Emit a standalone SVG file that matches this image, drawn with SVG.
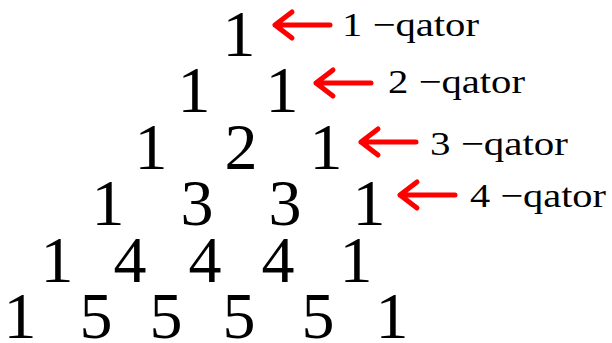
<svg xmlns="http://www.w3.org/2000/svg" width="612" height="343" viewBox="0 0 612 343">
<style>
.n{font-family:"Liberation Serif","Times New Roman",serif;font-size:66px;fill:#000;text-anchor:middle}
.l{font-family:"Liberation Serif","Times New Roman",serif;font-size:34px;fill:#000}
.a{fill:none;stroke:#ff0000;stroke-width:5;stroke-linecap:round;stroke-linejoin:round}
</style>
<rect width="612" height="343" fill="#fff"/>
<g id="row1">
<g id="r1c1"><text class="n" x="239" y="56">1</text></g>
</g>
<g id="row2">
<g id="r2c1"><text class="n" x="194" y="112">1</text></g>
<g id="r2c2"><text class="n" x="282" y="112">1</text></g>
</g>
<g id="row3">
<g id="r3c1"><text class="n" x="151" y="169">1</text></g>
<g id="r3c2"><text class="n" x="241" y="169">2</text></g>
<g id="r3c3"><text class="n" x="326" y="169">1</text></g>
</g>
<g id="row4">
<g id="r4c1"><text class="n" x="108" y="225">1</text></g>
<g id="r4c2"><text class="n" x="197" y="225">3</text></g>
<g id="r4c3"><text class="n" x="285" y="225">3</text></g>
<g id="r4c4"><text class="n" x="369" y="225">1</text></g>
</g>
<g id="row5">
<g id="r5c1"><text class="n" x="57" y="282">1</text></g>
<g id="r5c2"><text class="n" x="130" y="282">4</text></g>
<g id="r5c3"><text class="n" x="205" y="282">4</text></g>
<g id="r5c4"><text class="n" x="278" y="282">4</text></g>
<g id="r5c5"><text class="n" x="356" y="282">1</text></g>
</g>
<g id="row6">
<g id="r6c1"><text class="n" x="20" y="338">1</text></g>
<g id="r6c2"><text class="n" x="96" y="338">5</text></g>
<g id="r6c3"><text class="n" x="166" y="338">5</text></g>
<g id="r6c4"><text class="n" x="239" y="338">5</text></g>
<g id="r6c5"><text class="n" x="318" y="338">5</text></g>
<g id="r6c6"><text class="n" x="392" y="338">1</text></g>
</g>
<g id="label1"><text class="l" x="342" y="36" textLength="137" lengthAdjust="spacingAndGlyphs">1 −qator</text></g>
<g id="label2"><text class="l" x="388" y="93" textLength="137" lengthAdjust="spacingAndGlyphs">2 −qator</text></g>
<g id="label3"><text class="l" x="430" y="155" textLength="138" lengthAdjust="spacingAndGlyphs">3 −qator</text></g>
<g id="label4"><text class="l" x="470" y="207" textLength="136" lengthAdjust="spacingAndGlyphs">4 −qator</text></g>
<g id="connectors">
<path class="a" d="M330 25 H275 M292 12 L275 25 L292 38"/>
<path class="a" d="M371 83 H316 M333 70 L316 83 L333 96"/>
<path class="a" d="M416 142 H361 M378 129 L361 142 L378 155"/>
<path class="a" d="M455 195 H400 M417 182 L400 195 L417 208"/>
</g>
</svg>
